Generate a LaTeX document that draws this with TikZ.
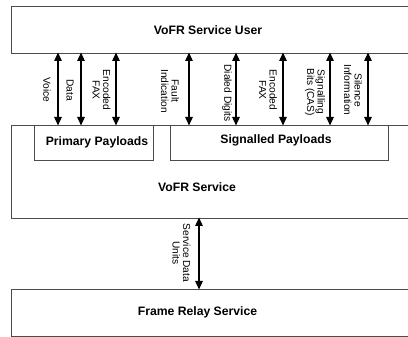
\documentclass[tikz,border=0pt]{standalone}
\usepackage{fontspec}
\setmainfont{Liberation Sans}
\usetikzlibrary{arrows.meta}
\begin{document}
\begin{tikzpicture}[x=1pt,y=-1pt,
  layer/.style={draw=black!70, line width=0.9pt, anchor=north west, inner sep=0pt, outer sep=0pt},
  title/.style={font=\fontsize{12.2}{14}\selectfont\bfseries},
  lbl/.style={font=\fontsize{10.2}{10.5}\selectfont, rotate=-90, align=center, inner sep=0pt},
  arr/.style={{Triangle[length=8.5pt,width=7.5pt]}-{Triangle[length=8.5pt,width=7.5pt]}, line width=1.3pt, shorten <=-0.5pt, shorten >=-0.5pt}]
\useasboundingbox (0,0) rectangle (408,337);
\clip (0,0) rectangle (408,337);

% service layers
\node[layer, minimum width=404pt, minimum height=47pt] (user) at (11,6) {};
\node[layer, minimum width=404pt, minimum height=93pt] (svc) at (11,125) {};
\node[layer, minimum width=404pt, minimum height=47pt] (frs) at (11,289) {};
\node[layer, minimum width=119pt, minimum height=35pt] (prim) at (34,125) {};
\node[layer, minimum width=218pt, minimum height=35pt] (sig) at (170,125) {};

\node[title] at (208,30) {VoFR Service User};
\node[title] at (197,187) {VoFR Service};
\node[title] at (97,142) {Primary Payloads};
\node[title] at (276,140) {Signalled Payloads};
\node[title] at (197.5,312.5) {Frame Relay Service};

% arrow columns
\foreach \n/\x in {a1/58,a2/81,a3/116,a4/189,a5/236,a6/283,a7/330,a8/368,a9/199}
  \coordinate (\n) at (\x,0);

\foreach \n in {a1,a2,a3,a4,a5,a6,a7,a8}
  \draw[arr] (user.south -| \n) -- (svc.north -| \n);
\draw[arr] (svc.south -| a9) -- (frs.north -| a9);

% primitive labels
\node[lbl] at (47,90) {Voice};
\node[lbl] at (70,90) {Data};
\node[lbl] at (101.5,90) {Encoded\\FAX};
\node[lbl] at (170,91) {Fault\\Indication};
\node[lbl] at (227,93) {Dialed Digits};
\node[lbl] at (268,90) {Encoded\\FAX};
\node[lbl] at (315,92) {Signalling\\Bits (CAS)};
\node[lbl] at (353,90) {Silence\\Information};
\node[lbl] at (181.5,253) {Service Data\\Units};
\end{tikzpicture}
\end{document}
